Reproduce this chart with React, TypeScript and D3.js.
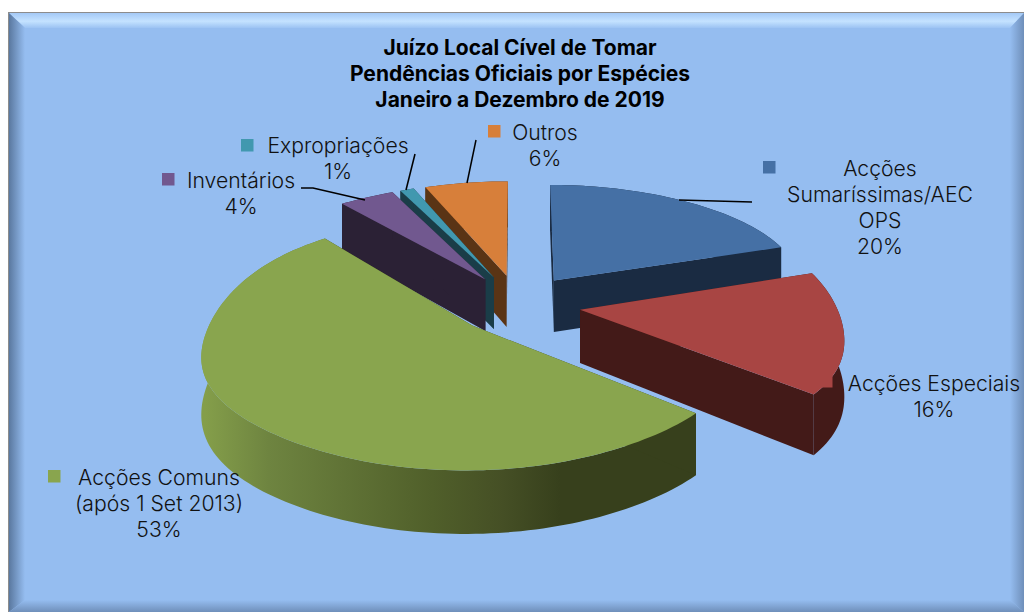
import React from "react";
import * as d3 from "d3";

const categories = ["Acções Sumaríssimas/AEC OPS", "Acções Especiais", "Acções Comuns (após 1 Set 2013)", "Inventários", "Expropriações", "Outros"];
const percentages = [20, 16, 53, 4, 1, 6];
const topColors = ["#4570A5", "#A84543", "#89A54E", "#71588F", "#4198AF", "#D77F3A"];
const wallColors = ["#1A2B42", "#431A18", "#37401C", "#2B2135", "#1A3D48", "#5A3415"];
const paintOrder = [0, 5, 4, 3, 2, 1];
const titleLines = ["Juízo Local Cível de Tomar", "Pendências Oficiais por Espécies", "Janeiro a Dezembro de 2019"];

const W = 1024, H = 612;
const CX = 518, CY = 304, R = 265, EXPLODE = 65, DEPTH = 55;

// camera response across the depth of the ground plane (near -> far)
const xScaleAlongDepth = d3.interpolateBasis([1.16, 1.14, 1.0, 0.925, 0.885, 0.83]);
const yScaleAlongDepth = d3.interpolateBasis([0.545, 0.505, 0.475, 0.445, 0.395, 0.37]);
const depthToUnit = d3.scaleLinear().domain([-1.3, 1.3]).range([0, 1]).clamp(true);

const FONT = "Inter, 'Open Sans', sans-serif";

function project(gx: number, gv: number, drop = 0): [number, number] {
  const u = depthToUnit(gv / R);
  const f = xScaleAlongDepth(u);
  return [CX + gx * f, CY - yScaleAlongDepth(u) * gv + drop * f];
}

const pie = d3.pie<number>().sort(null).value((d) => d);
const arcs = pie(percentages);
const line = d3.line();

function sliceGeom(a: d3.PieArcDatum<number>) {
  const mid = (a.startAngle + a.endAngle) / 2;
  const ox = EXPLODE * Math.sin(mid), ov = EXPLODE * Math.cos(mid);
  const n = Math.max(4, Math.ceil((a.endAngle - a.startAngle) * 40));
  const angles = d3.range(n + 1).map((i) => a.startAngle + ((a.endAngle - a.startAngle) * i) / n);
  const rim = angles.map((t) => [ox + R * Math.sin(t), ov + R * Math.cos(t)]);
  const top = (d: number) => rim.map(([x, v]) => project(x, v, d));
  const apex = (d: number) => project(ox, ov, d);
  return {
    topFace: line([apex(0), ...top(0)]) + "Z",
    outerWall: line([...top(0), ...top(DEPTH).reverse()]) + "Z",
    wallA: line([apex(0), top(0)[0], top(DEPTH)[0], apex(DEPTH)]) + "Z",
    wallB: line([apex(0), top(0)[n], top(DEPTH)[n], apex(DEPTH)]) + "Z",
  };
}

const labels: { lines: string[]; x: number; y: number; key: [number, number]; i: number }[] = [
  { lines: ["Acções", "Sumaríssimas/AEC", "OPS", "20%"], x: 880, y: 176, key: [763, 161], i: 0 },
  { lines: ["Acções Especiais", "16%"], x: 934, y: 391, key: [820, 375], i: 1 },
  { lines: ["Acções Comuns", "(após 1 Set 2013)", "53%"], x: 159, y: 485, key: [48, 470], i: 2 },
  { lines: ["Inventários", "4%"], x: 241, y: 188, key: [162, 173], i: 3 },
  { lines: ["Expropriações", "1%"], x: 338, y: 153, key: [241, 139], i: 4 },
  { lines: ["Outros", "6%"], x: 545, y: 140, key: [488, 125], i: 5 },
];

const leaders: [number, number][][] = [
  [[679, 200], [752, 202]],
  [[301, 188], [313, 188], [365, 200]],
  [[415, 154], [406, 190]],
  [[476, 140], [467, 183]],
];

export default function App() {
  return (
    <svg width={W} height={H} viewBox={`0 0 ${W} ${H}`} style={{ position: "absolute", left: 0, top: 0 }}>
      <defs>
        <linearGradient id="bTop" x1="0" y1="13" x2="0" y2="28" gradientUnits="userSpaceOnUse">
          <stop offset="0" stopColor="#A4C9F6" />
          <stop offset="0.55" stopColor="#C4E2FF" />
          <stop offset="1" stopColor="#9CC3F3" />
        </linearGradient>
        <linearGradient id="bLeft" x1="9" y1="0" x2="25" y2="0" gradientUnits="userSpaceOnUse">
          <stop offset="0" stopColor="#5A789F" />
          <stop offset="1" stopColor="#95BDF0" />
        </linearGradient>
        <linearGradient id="bRight" x1="1010" y1="0" x2="1024" y2="0" gradientUnits="userSpaceOnUse">
          <stop offset="0" stopColor="#95BDF0" />
          <stop offset="1" stopColor="#6F8FBA" />
        </linearGradient>
        <linearGradient id="bBottom" x1="0" y1="600" x2="0" y2="612" gradientUnits="userSpaceOnUse">
          <stop offset="0" stopColor="#95BDF0" />
          <stop offset="1" stopColor="#6F8FBA" />
        </linearGradient>
        <linearGradient id="greenWall" x1="205" y1="0" x2="560" y2="0" gradientUnits="userSpaceOnUse">
          <stop offset="0" stopColor="#849E4A" />
          <stop offset="0.18" stopColor="#6E8440" />
          <stop offset="0.64" stopColor="#505F2A" />
          <stop offset="0.84" stopColor="#454F25" />
          <stop offset="1" stopColor="#37401C" />
        </linearGradient>
      </defs>

      <rect x={0} y={0} width={W} height={H} fill="#fff" />
      <rect x={8} y={12} width={W - 8} height={H - 12} fill="#8C8C8C" />
      <rect x={9} y={13} width={W - 9} height={H - 13} fill="#95BDF0" />
      <polygon points="9,13 1024,13 1010,28 25,28" fill="url(#bTop)" />
      <polygon points="9,13 25,28 25,600 9,612" fill="url(#bLeft)" />
      <polygon points="1024,13 1010,28 1010,600 1024,612" fill="url(#bRight)" />
      <polygon points="9,612 25,600 1010,600 1024,612" fill="url(#bBottom)" />

      {paintOrder.map((i) => {
        const g = sliceGeom(arcs[i]);
        const wall = wallColors[i];
        return (
          <g key={categories[i]}>
            <path d={g.outerWall} fill={i === 2 ? "url(#greenWall)" : wall} />
            <path d={g.wallA} fill={wall} />
            <path d={g.wallB} fill={wall} />
            <path d={g.topFace} fill={topColors[i]} />
          </g>
        );
      })}

      {leaders.map((pts, i) => (
        <path key={i} d={line(pts) as string} fill="none" stroke="#000" strokeWidth={1.5} />
      ))}

      {labels.map((l) => (
        <g key={l.i}>
          <rect x={l.key[0]} y={l.key[1]} width={12.5} height={12.5} fill={topColors[l.i]} />
          <text textAnchor="middle" fontFamily={FONT} fontSize={21.2} fontWeight={300} fill="#111">
            {l.lines.map((s, j) => (
              <tspan key={j} x={l.x} y={l.y + j * 26}>{s}</tspan>
            ))}
          </text>
        </g>
      ))}

      <text textAnchor="middle" fontFamily={FONT} fontSize={21} fontWeight={700} fill="#000">
        {titleLines.map((s, j) => (
          <tspan key={j} x={520} y={55 + j * 26}>{s}</tspan>
        ))}
      </text>
    </svg>
  );
}
